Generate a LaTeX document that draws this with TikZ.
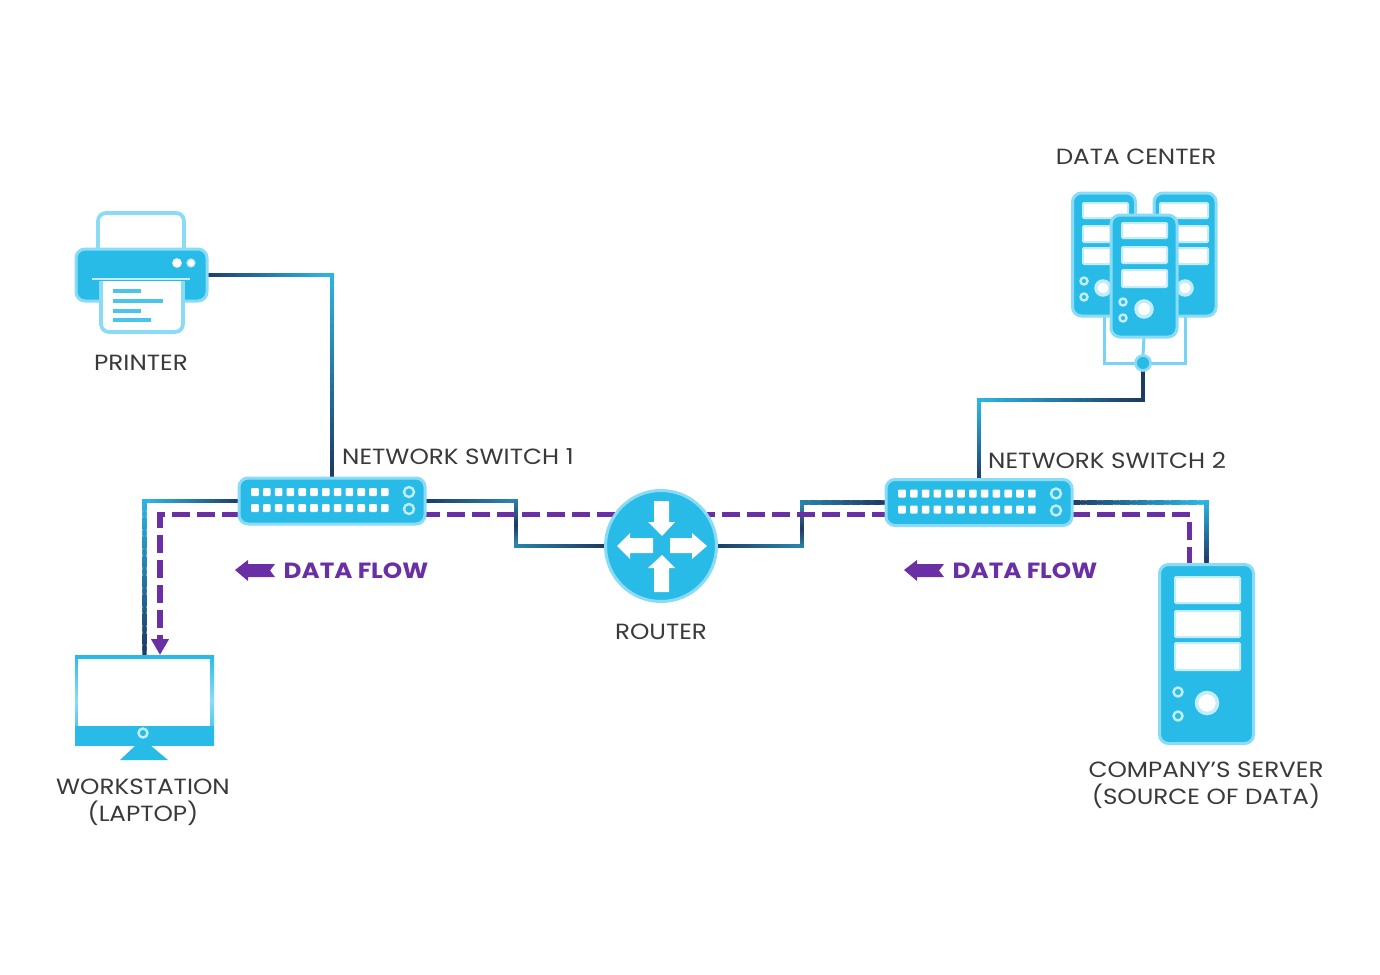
\documentclass[tikz,border=0pt]{standalone}
\usepackage{fontspec}
\setmainfont[FakeStretch=1.12]{Poppins}
\usetikzlibrary{calc,arrows.meta}
\definecolor{navy}{HTML}{1D3A63}
\definecolor{cyanline}{HTML}{2BB8E6}
\definecolor{tealline}{HTML}{2A85AC}
\definecolor{iconfill}{HTML}{29BBE8}
\definecolor{iconedge}{HTML}{8ADCF6}
\definecolor{softedge}{HTML}{C4EDFA}
\definecolor{flow}{HTML}{6B2FA5}
\definecolor{labeltext}{HTML}{3A3A3A}
\pgfdeclarelayer{wires}
\pgfsetlayers{wires,main}
% one straight cable run whose colour fades from #3 to #4
\newcommand{\gradrun}[4]{%
  \foreach \i in {1,...,24}{%
    \pgfmathsetmacro{\runs}{(\i-1)/24}%
    \pgfmathsetmacro{\rune}{\i/24}%
    \pgfmathtruncatemacro{\runp}{100-(\i-0.5)*100/24}%
    \draw[cable,draw={#3!\runp!#4}] ($(#1)!\runs!(#2)$) -- ($(#1)!\rune!(#2)$);
  }%
}
\newcommand{\sizednode}[4]{\node[#1,minimum width=#3pt,minimum height=#4pt] (#2)}
\tikzset{
  cable/.style={line width=4.3pt,line cap=rect},
  iconbody/.style={draw=iconedge,line width=3pt,fill=iconfill,rounded corners=9pt,inner sep=0pt,outer sep=0pt},
  window/.style={draw=softedge,line width=2pt,fill=white,rounded corners=1pt},
  port/.style={fill=white,rounded corners=1pt},
  ring/.style={draw=softedge,line width=2.4pt,fill=iconfill},
  knob/.style={draw=softedge,line width=3.5pt,fill=white},
  paper/.style={draw=iconedge,line width=3.8pt,fill=white,rounded corners=8pt},
  textbar/.style={draw=iconfill!85!white,line width=3.4pt},
  whitearrow/.style={fill=white},
  caption/.style={text=labeltext,font=\fontsize{22}{27}\selectfont,align=center,inner sep=0pt},
  flowtext/.style={text=flow,font=\fontsize{22}{27}\selectfont\bfseries,inner sep=0pt},
  flowpath/.style={draw=flow,line width=5.4pt,dash pattern=on 18pt off 7pt},
  flowmark/.style={fill=flow},
  bracket/.style={draw=iconedge!80!iconfill,line width=3pt},
}
\begin{document}
\begin{tikzpicture}[x=1pt,y=-1pt]
\useasboundingbox (0,0) rectangle (1380,974);

% printer
\draw[paper] (98,256) -- (98,213) -- (184,213) -- (184,256);
\sizednode{iconbody}{printer}{131}{52} at (141.5,275) {};
\draw[paper] (101,281) -- (101,332) -- (183,332) -- (183,281);
\fill[white] (101,281) rectangle (183,300);
\draw[draw=iconedge,line width=3.8pt] (101,281) -- (101,305);
\draw[draw=iconedge,line width=3.8pt] (183,281) -- (183,305);
\draw[draw=softedge,line width=2.4pt] (92,279) -- (190,279);
\fill[white] (177,263) circle (4.8);
\draw[ring,fill=white,line width=1.5pt] (191,263) circle (3.8);
\draw[textbar] (113,291) -- (141,291);
\draw[textbar] (113,301) -- (163,301);
\draw[textbar] (113,311) -- (141,311);
\draw[textbar] (113,320) -- (151,320);
\node[caption] (printerlabel) at (141,363) {PRINTER};

% network switches
\sizednode{iconbody}{sw1}{186}{46} at (332,501) {};
\sizednode{iconbody}{sw2}{186}{46} at (979,502.5) {};
\foreach \col in {0,...,11}{
  \fill[port] ($(sw1.center)+(-77+\col*11.8,-9)$) ++(-3.8,-4) rectangle ++(7.6,8);
  \fill[port] ($(sw1.center)+(-77+\col*11.8,7)$) ++(-3.8,-4) rectangle ++(7.6,8);
  \fill[port] ($(sw2.center)+(-77+\col*11.8,-9)$) ++(-3.8,-4) rectangle ++(7.6,8);
  \fill[port] ($(sw2.center)+(-77+\col*11.8,7)$) ++(-3.8,-4) rectangle ++(7.6,8);
}
\draw[ring] ($(sw1.center)+(77,-9)$) circle (5);
\draw[ring] ($(sw1.center)+(77,8)$) circle (5);
\draw[ring] ($(sw2.center)+(77,-9)$) circle (5);
\draw[ring] ($(sw2.center)+(77,8)$) circle (5);
\node[caption,anchor=west] (sw1label) at (342,457) {NETWORK SWITCH 1};
\node[caption,anchor=west] (sw2label) at (988,460) {NETWORK SWITCH 2};

% router
\node[iconbody,circle,minimum size=111pt] (router) at (661,546) {};
\fill[whitearrow] (654,501) -- (669,501) -- (669,522) -- (675,522) -- (662,536) -- (648,522) -- (654,522) -- cycle;
\fill[whitearrow] (662,555) -- (675,568) -- (669,568) -- (669,592) -- (654,592) -- (654,568) -- (648,568) -- cycle;
\fill[whitearrow] (617,546) -- (630,533) -- (630,538) -- (653,538) -- (653,553) -- (630,553) -- (630,559) -- cycle;
\fill[whitearrow] (707,546) -- (692,533) -- (692,538) -- (670,538) -- (670,553) -- (692,553) -- (692,559) -- cycle;
\node[caption] (routerlabel) at (661,632) {ROUTER};

% data center
\sizednode{iconbody}{dcleft}{63}{123} at (1104,254.5) {};
\sizednode{iconbody}{dcright}{62}{123} at (1185,254.5) {};
\foreach \wy/\wh in {203/15,226/16,248/16}{
  \draw[window] (1083,\wy) rectangle ++(45,\wh);
  \draw[window] (1160,\wy) rectangle ++(48,\wh);
}
\draw[ring] (1084,281) circle (3.5);
\draw[ring] (1084,297) circle (3.5);
\draw[knob] (1103,288) circle (7);
\draw[knob] (1185,288) circle (7);
\sizednode{iconbody}{dcfront}{66}{122} at (1144,276) {};
\draw[window] (1122,223) rectangle ++(45,15);
\draw[window] (1122,247) rectangle ++(45,16);
\draw[window] (1122,270) rectangle ++(45,17);
\draw[ring] (1123,302) circle (3.5);
\draw[ring] (1123,318) circle (3.5);
\draw[knob] (1144,309) circle (8);
\node[draw=iconedge,line width=2.6pt,fill=iconfill,circle,minimum size=15pt,inner sep=0pt,outer sep=0pt] (hub) at (1143,363) {};
\node[caption] (dclabel) at (1136,157) {DATA CENTER};

% company server
\sizednode{iconbody}{server}{94}{179} at (1206.5,654) {};
\draw[window] (1175,577) rectangle ++(65,26);
\draw[window] (1175,611) rectangle ++(65,26);
\draw[window] (1175,643) rectangle ++(65,27);
\draw[ring] (1178,692) circle (4.5);
\draw[ring] (1178,716) circle (4.5);
\draw[knob] (1207,703) circle (10.5);
\node[caption] (serverlabel) at (1206,785.5) {COMPANY’S SERVER\\(SOURCE OF DATA)};

% workstation
\node[fill=iconedge,minimum width=139pt,minimum height=90pt,inner sep=0pt,outer sep=0pt] (workstation) at (144.5,700) {};
\shade[top color=iconfill,bottom color=iconfill,middle color=iconedge] (75,655) rectangle (214,745);
\fill[iconfill] (75,655) rectangle (214,659);
\fill[iconfill] (75,726) rectangle (214,745);
\fill[white] (78,659) rectangle (210,726);
\draw[ring] (143,733) circle (4.5);
\fill[iconfill] (136,745) -- (150,745) -- (168,760) -- (120,760) -- cycle;
\node[caption] (workstationlabel) at (143,802) {WORKSTATION\\(LAPTOP)};

% data flow legends
\fill[flowmark] (235,570) -- (248,560) -- (248,564) -- (275,564) -- (270,570.5) -- (275,577) -- (248,577) -- (248,581) -- cycle;
\node[flowtext] (flowlabelA) at (356,571) {DATA FLOW};
\fill[flowmark] (904,570) -- (917,560) -- (917,564) -- (944,564) -- (939,570.5) -- (944,577) -- (917,577) -- (917,581) -- cycle;
\node[flowtext] (flowlabelB) at (1025,571) {DATA FLOW};

% cables and the dashed flow route lie behind the equipment
\begin{pgfonlayer}{wires}
  \fill[white] (0,0) rectangle (1380,974);

  \coordinate (c1) at (sw1.north |- printer.east);
  \gradrun{printer.east}{c1}{navy}{cyanline}
  \gradrun{c1}{sw1.north}{cyanline}{navy}

  \coordinate (c2) at (workstation.north |- sw1.west);
  \gradrun{sw1.west}{c2}{navy}{cyanline}
  \gradrun{c2}{workstation.north}{cyanline}{navy}

  \coordinate (c3) at (516,501);
  \coordinate (c4) at (516,546);
  \coordinate (c3m) at ($(c3)!0.6!(c4)$);
  \gradrun{sw1.east}{c3}{navy}{tealline}
  \gradrun{c3}{c3m}{tealline}{navy}
  \gradrun{c3m}{c4}{navy}{tealline}
  \gradrun{c4}{router.west}{tealline}{navy}

  \coordinate (c5) at (802,546);
  \coordinate (c6) at (802,502.5);
  \coordinate (c5m) at ($(c5)!0.45!(c6)$);
  \gradrun{router.east}{c5}{navy}{tealline}
  \gradrun{c5}{c5m}{tealline}{navy}
  \gradrun{c5m}{c6}{navy}{tealline}
  \gradrun{c6}{sw2.west}{tealline}{navy}

  \coordinate (c7) at (sw2.north |- 0,400);
  \coordinate (c8) at (hub.south |- 0,400);
  \gradrun{sw2.north}{c7}{navy}{cyanline}
  \gradrun{c7}{c8}{cyanline}{navy}
  \gradrun{c8}{hub.south}{navy}{navy}

  \coordinate (c9) at (server.north |- sw2.east);
  \gradrun{sw2.east}{c9}{navy}{cyanline}
  \gradrun{c9}{server.north}{cyanline}{navy}

  \draw[bracket] (dcleft.south) |- (hub.west);
  \draw[bracket] (dcright.south) |- (hub.east);
  \draw[bracket] (dcfront.south) -- (hub.north);

  \coordinate (f1) at ([xshift=-17pt]server.north);
  \coordinate (f2) at (f1 |- 0,514.5);
  \coordinate (f4) at ([xshift=15.5pt]workstation.north);
  \coordinate (f3) at (f4 |- 0,514.5);
  \draw[flowpath,-{Triangle[length=16pt,width=17pt]}] (f1) -- (f2) -- (f3) -- (f4);
\end{pgfonlayer}
\end{tikzpicture}
\end{document}
